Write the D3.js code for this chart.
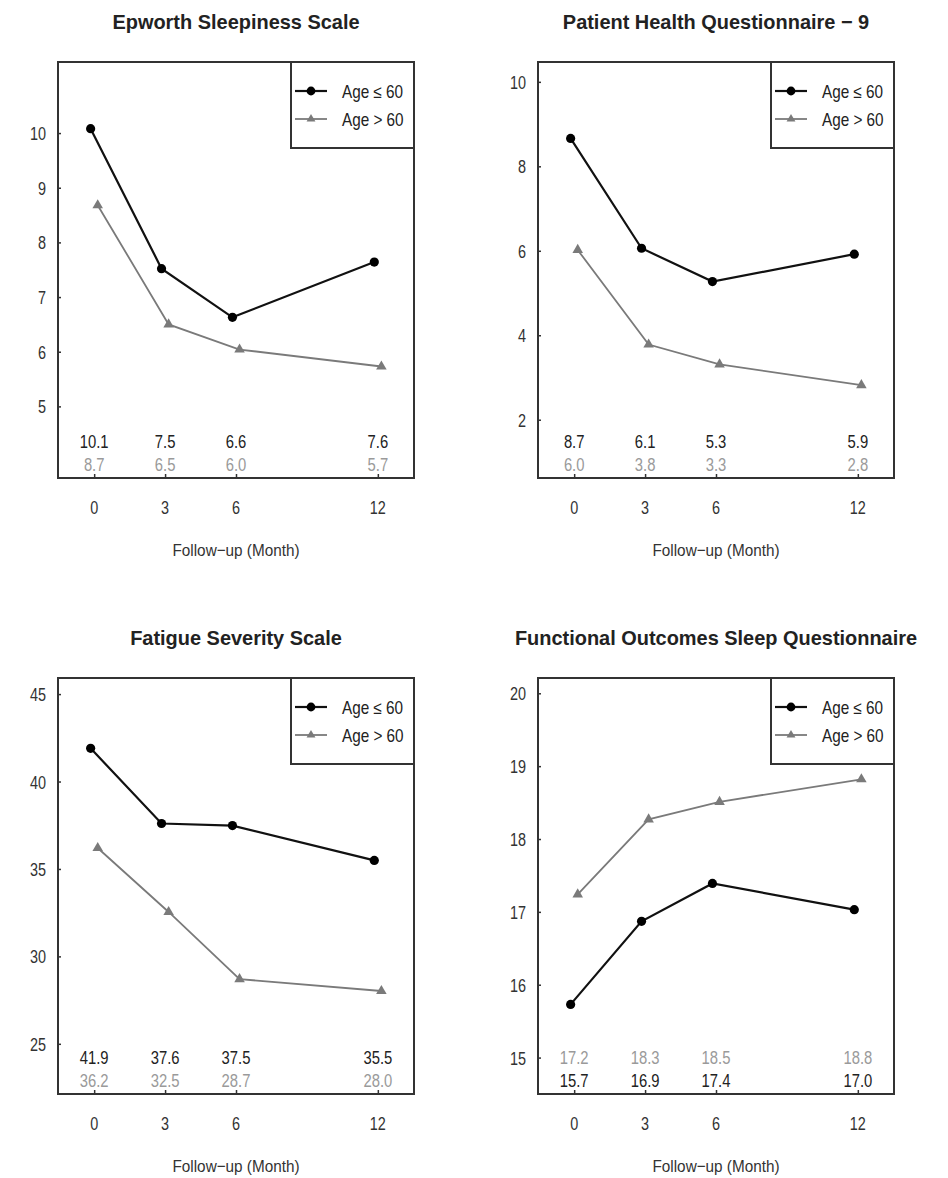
<!DOCTYPE html>
<html><head><meta charset="utf-8">
<script src="https://cdn.jsdelivr.net/npm/d3@7"></script>
<style>body{margin:0;background:#fff}svg{display:block}text{font-family:"Liberation Sans",Arial,Helvetica,sans-serif}</style>
</head><body><svg id="c" width="948" height="1178"></svg>
<script>
// ---- data ----
const months = [0, 3, 6, 12];
const xTickLabels = ["0", "3", "6", "12"];
const titles = ["Epworth Sleepiness Scale", "Patient Health Questionnaire \u2212 9", "Fatigue Severity Scale", "Functional Outcomes Sleep Questionnaire"];
const seriesNames = ["Age \u2264 60", "Age > 60"];
const xTitle = "Follow\u2212up (Month)";
const essYoung = [10.08, 7.52, 6.63, 7.64];
const essOld = [8.68, 6.50, 6.04, 5.73];
const phqYoung = [8.66, 6.06, 5.27, 5.92];
const phqOld = [6.02, 3.78, 3.31, 2.82];
const fssYoung = [41.9, 37.6, 37.48, 35.49];
const fssOld = [36.2, 32.54, 28.7, 28.02];
const fosqYoung = [15.73, 16.87, 17.39, 17.03];
const fosqOld = [17.24, 18.27, 18.51, 18.82];
const essTicks = [5, 6, 7, 8, 9, 10];
const phqTicks = [2, 4, 6, 8, 10];
const fssTicks = [25, 30, 35, 40, 45];
const fosqTicks = [15, 16, 17, 18, 19, 20];

// ---- layout ----
const panels = [
  {title: titles[0], young: essYoung, old: essOld, ticks: essTicks, dom: [3.69, 11.30], x0: 58, y0: 62, oldTop: false},
  {title: titles[1], young: phqYoung, old: phqOld, ticks: phqTicks, dom: [0.62, 10.47], x0: 538, y0: 62, oldTop: false},
  {title: titles[2], young: fssYoung, old: fssOld, ticks: fssTicks, dom: [22.13, 45.92], x0: 58, y0: 678, oldTop: false},
  {title: titles[3], young: fosqYoung, old: fosqOld, ticks: fosqTicks, dom: [14.5, 20.21], x0: 538, y0: 678, oldTop: true}
];
const PW = 356, PH = 416, dodge = 0.15;
const BLACK = "#111", GREY = "#7a7a7a", GREYTXT = "#9a9a9a";
const svg = d3.select("#c");

function txt(g, x, y, s, o) {
  const k = o.k || 1;
  return g.append("text")
    .attr("transform", `translate(${x},${y}) scale(${k},1)`)
    .attr("text-anchor", o.anchor || "middle")
    .attr("font-size", o.size)
    .attr("font-weight", o.weight || "normal")
    .attr("fill", o.fill || "#222")
    .text(s);
}

panels.forEach(p => {
  const g = svg.append("g");
  const x = d3.scaleLinear().domain([-1.53, 13.53]).range([p.x0, p.x0 + PW]);
  const y = d3.scaleLinear().domain(p.dom).range([p.y0 + PH, p.y0]);
  const L = p.x0, R = p.x0 + PW, T = p.y0, B = p.y0 + PH;

  // title
  txt(g, (L + R) / 2, T - 33, p.title, {size: 21, weight: "bold", k: 0.95, fill: "#222"});

  // axes (inward ticks)
  const ya = g.append("g").attr("transform", `translate(${L},0)`)
    .call(d3.axisLeft(y).tickValues(p.ticks).tickSize(-3).tickFormat(d3.format("d")));
  ya.select(".domain").remove();
  ya.selectAll("line").attr("stroke", "#333").attr("stroke-width", 1.5);
  ya.selectAll("text").remove();
  p.ticks.forEach(t => txt(g, L - 12, y(t) + 7, String(t), {size: 19, k: 0.76, anchor: "end", fill: "#333"}));

  const xa = g.append("g").attr("transform", `translate(0,${B})`)
    .call(d3.axisBottom(x).tickValues(months).tickSize(-4));
  xa.select(".domain").remove();
  xa.selectAll("line").attr("stroke", "#333").attr("stroke-width", 1.5);
  xa.selectAll("text").remove();
  months.forEach((m, i) => txt(g, x(m), B + 36, xTickLabels[i], {size: 19, k: 0.76, fill: "#333"}));

  txt(g, (L + R) / 2, B + 78, xTitle, {size: 17, k: 0.9, fill: "#333"});

  // frame
  g.append("rect").attr("x", L).attr("y", T).attr("width", PW).attr("height", PH)
    .attr("fill", "none").attr("stroke", "#333").attr("stroke-width", 2);

  // series
  const line = d3.line();
  const oldPts = months.map((m, i) => [x(m + dodge), y(p.old[i])]);
  const youngPts = months.map((m, i) => [x(m - dodge), y(p.young[i])]);
  g.append("path").attr("d", line(oldPts)).attr("fill", "none").attr("stroke", GREY).attr("stroke-width", 1.8);
  g.selectAll(".tri").data(oldPts).join("path")
    .attr("transform", d => `translate(${d[0]},${d[1]})`)
    .attr("d", d3.symbol(d3.symbolTriangle, 48)).attr("fill", GREY);
  g.append("path").attr("d", line(youngPts)).attr("fill", "none").attr("stroke", BLACK).attr("stroke-width", 2.2);
  g.selectAll(".dot").data(youngPts).join("circle")
    .attr("cx", d => d[0]).attr("cy", d => d[1]).attr("r", 4.6).attr("fill", "#000");

  // value annotations
  const topVals = p.oldTop ? p.old : p.young, botVals = p.oldTop ? p.young : p.old;
  const topCol = p.oldTop ? GREYTXT : "#222", botCol = p.oldTop ? "#222" : GREYTXT;
  months.forEach((m, i) => {
    txt(g, x(m), B - 30, topVals[i].toFixed(1), {size: 19, k: 0.78, fill: topCol});
    txt(g, x(m), B - 7, botVals[i].toFixed(1), {size: 19, k: 0.78, fill: botCol});
  });

  // legend
  const lx = R - 123, ly = T;
  g.append("rect").attr("x", lx).attr("y", ly).attr("width", 123).attr("height", 86)
    .attr("fill", "#fff").attr("stroke", "#333").attr("stroke-width", 2);
  const r1 = ly + 29, r2 = ly + 57;
  g.append("line").attr("x1", lx + 4).attr("x2", lx + 36).attr("y1", r1).attr("y2", r1).attr("stroke", BLACK).attr("stroke-width", 2.2);
  g.append("circle").attr("cx", lx + 20).attr("cy", r1).attr("r", 4.4).attr("fill", "#000");
  g.append("line").attr("x1", lx + 4).attr("x2", lx + 36).attr("y1", r2).attr("y2", r2).attr("stroke", GREY).attr("stroke-width", 1.8);
  g.append("path").attr("transform", `translate(${lx + 20},${r2})`).attr("d", d3.symbol(d3.symbolTriangle, 34)).attr("fill", GREY);
  txt(g, lx + 51, r1 + 7, seriesNames[0], {size: 18, k: 0.85, anchor: "start", fill: "#222"});
  txt(g, lx + 51, r2 + 7, seriesNames[1], {size: 18, k: 0.85, anchor: "start", fill: "#222"});
});
</script></body></html>
